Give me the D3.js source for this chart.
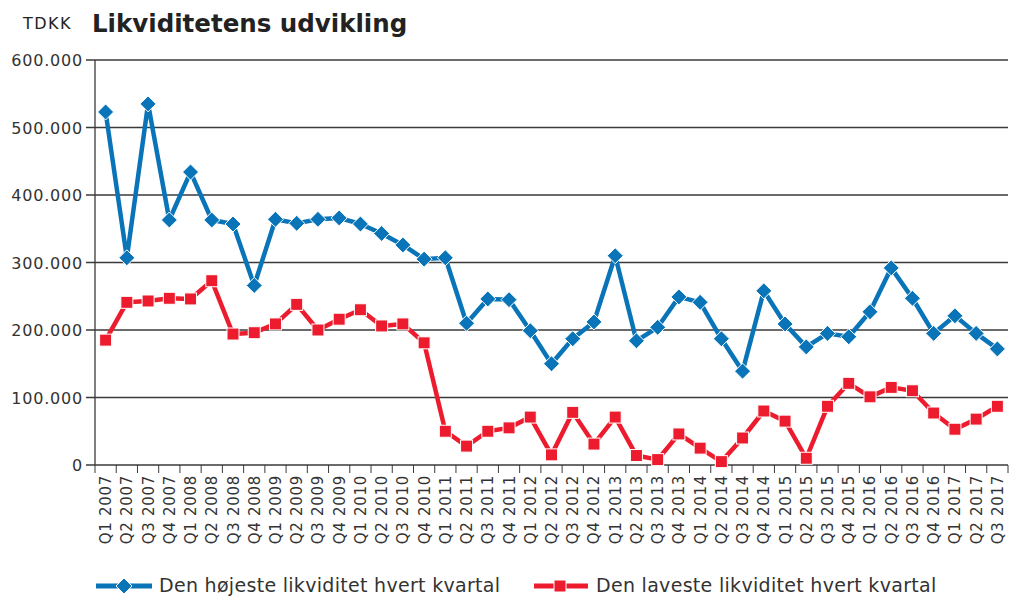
<!DOCTYPE html>
<html>
<head>
<meta charset="utf-8">
<script src="https://cdn.jsdelivr.net/npm/d3@7"></script>
<style>
	body { margin: 0; background: #fff; }
	svg { display: block; font-family: "DejaVu Sans", "Noto Sans", sans-serif; }
</style>
</head>
<body>
<svg id="chart"></svg>
<script>
// quarters Q1 2007 .. Q3 2017
const quarters = [];
for (let yr = 2007; yr <= 2017; yr++) {
	for (let q = 1; q <= 4; q++) {
		if (yr === 2017 && q > 3) break;
		quarters.push("Q" + q + " " + yr);
	}
}

// Den højeste likviditet hvert kvartal (TDKK)
const highest = [523000, 307000, 535000, 363000, 434000, 363000, 357000, 266000,
	364000, 358000, 364000, 366000, 357000, 343000, 326000, 305000,
	307000, 210000, 246000, 245000, 199000, 150000, 187000, 212000,
	310000, 184000, 204000, 249000, 241000, 187000, 139000, 258000,
	209000, 175000, 195000, 190000, 227000, 292000, 247000, 195000,
	221000, 195000, 172000];

// Den laveste likviditet hvert kvartal (TDKK)
const lowest = [185000, 241000, 243000, 247000, 246000, 273000, 194000, 196000,
	209000, 238000, 200000, 216000, 230000, 206000, 209000, 181000,
	50000, 28000, 50000, 55000, 71000, 15000, 78000, 31000,
	71000, 14000, 8000, 46000, 25000, 5000, 40000, 80000,
	65000, 10000, 87000, 121000, 101000, 115000, 110000, 77000,
	53000, 68000, 87000];

const yTicks = [0, 100000, 200000, 300000, 400000, 500000, 600000];
const seriesNames = ["Den højeste likviditet hvert kvartal", "Den laveste likviditet hvert kvartal"];

const width = 1010, height = 596;
const plotLeft = 95, plotRight = 1008, plotTop = 60, plotBottom = 465;
const blue = "#0a74b9", red = "#ec1c2e";

const svg = d3.select("#chart").attr("width", width).attr("height", height);

const x = d3.scaleBand().domain(quarters).range([plotLeft, plotRight]);
const y = d3.scaleLinear().domain([0, 600000]).range([plotBottom, plotTop]);

const fmt = (v) => v === 0 ? "0" : d3.format(",")(v).replace(/,/g, ".");

// title
svg.append("text").attr("x", 23).attr("y", 29)
	.attr("font-size", 16).attr("letter-spacing", 1.5).attr("fill", "#222").text("TDKK");
svg.append("text").attr("x", 92).attr("y", 32)
	.attr("font-size", 24.5).attr("font-weight", "bold").attr("fill", "#222")
	.text("Likviditetens udvikling");

// gridlines + y labels
const yAxis = svg.append("g");
yTicks.forEach((t) => {
	yAxis.append("line")
		.attr("x1", 86).attr("x2", plotRight)
		.attr("y1", y(t)).attr("y2", y(t))
		.attr("stroke", "#3a3a3a").attr("stroke-width", 1.3);
	yAxis.append("text")
		.attr("x", 83).attr("y", y(t) + 6)
		.attr("text-anchor", "end").attr("font-size", 16).attr("letter-spacing", 0.8)
		.attr("fill", "#333")
		.text(fmt(t));
});

// left axis line
svg.append("line").attr("x1", plotLeft).attr("x2", plotLeft)
	.attr("y1", plotTop).attr("y2", plotBottom)
	.attr("stroke", "#3a3a3a").attr("stroke-width", 1.3);

// x axis ticks at band boundaries
const xAxis = svg.append("g");
quarters.forEach((q) => {
	xAxis.append("line")
		.attr("x1", x(q)).attr("x2", x(q))
		.attr("y1", plotBottom).attr("y2", plotBottom + 8)
		.attr("stroke", "#3a3a3a").attr("stroke-width", 1);
});
xAxis.append("line").attr("x1", plotRight).attr("x2", plotRight)
	.attr("y1", plotBottom).attr("y2", plotBottom + 8).attr("stroke", "#3a3a3a");

quarters.forEach((q) => {
	const cx = x(q) + x.bandwidth() / 2;
	xAxis.append("text")
		.attr("transform", "translate(" + (cx + 5.5) + "," + (plotBottom + 10) + ") rotate(-90)")
		.attr("text-anchor", "end").attr("font-size", 15).attr("letter-spacing", 0.7)
		.attr("fill", "#333")
		.text(q);
});

const cxOf = (i) => x(quarters[i]) + x.bandwidth() / 2;

const line = d3.line().x((d, i) => cxOf(i)).y((d) => y(d));

// red series
svg.append("path").datum(lowest).attr("d", line)
	.attr("fill", "none").attr("stroke", red).attr("stroke-width", 4.5)
	.attr("stroke-linejoin", "round");
svg.selectAll(".sq").data(lowest).enter().append("rect")
	.attr("x", (d, i) => cxOf(i) - 6).attr("y", (d) => y(d) - 6)
	.attr("width", 12).attr("height", 12)
	.attr("fill", red).attr("stroke", "#fff").attr("stroke-width", 1);

// blue series
svg.append("path").datum(highest).attr("d", line)
	.attr("fill", "none").attr("stroke", blue).attr("stroke-width", 4.5)
	.attr("stroke-linejoin", "round");
const diamond = "M0,-8L8,0L0,8L-8,0Z";
svg.selectAll(".dm").data(highest).enter().append("path")
	.attr("d", diamond)
	.attr("transform", (d, i) => "translate(" + cxOf(i) + "," + y(d) + ")")
	.attr("fill", blue).attr("stroke", "#fff").attr("stroke-width", 1);

// legend
const ly = 586;
const lg = svg.append("g");
lg.append("line").attr("x1", 96).attr("x2", 152).attr("y1", ly).attr("y2", ly)
	.attr("stroke", blue).attr("stroke-width", 5);
lg.append("path").attr("d", diamond).attr("transform", "translate(124," + ly + ")")
	.attr("fill", blue).attr("stroke", "#fff").attr("stroke-width", 1);
lg.append("text").attr("x", 159).attr("y", ly + 6).attr("font-size", 19)
	.attr("letter-spacing", 0.3).attr("fill", "#333")
	.text(seriesNames[0]);

lg.append("line").attr("x1", 534).attr("x2", 588).attr("y1", ly).attr("y2", ly)
	.attr("stroke", red).attr("stroke-width", 5);
lg.append("rect").attr("x", 554).attr("y", ly - 6).attr("width", 12).attr("height", 12)
	.attr("fill", red).attr("stroke", "#fff").attr("stroke-width", 1);
lg.append("text").attr("x", 596).attr("y", ly + 6).attr("font-size", 19)
	.attr("letter-spacing", 0.3).attr("fill", "#333")
	.text(seriesNames[1]);
</script>
</body>
</html>
